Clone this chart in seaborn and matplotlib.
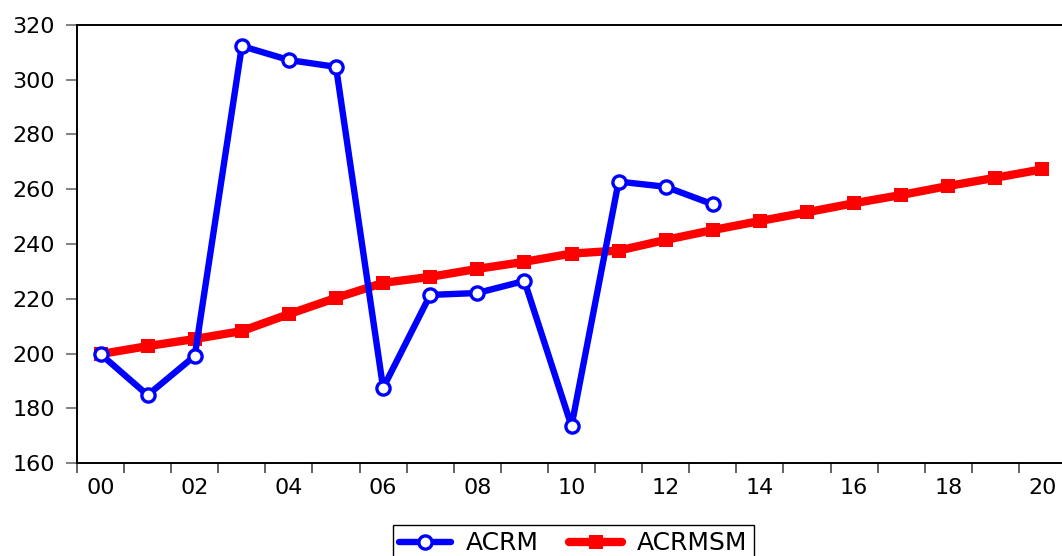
import matplotlib
matplotlib.use("Agg")
import matplotlib.pyplot as plt
import seaborn as sns
import pandas as pd
import numpy as np

years_acrm = list(range(2000, 2014))
acrm = [199.8, 184.8, 199.1, 312.3, 307.2, 304.7, 187.4, 221.4, 222.1, 226.5, 173.5, 262.8, 260.9, 254.5]
years_sm = list(range(2000, 2021))
acrmsm = [199.8, 202.7, 205.3, 208.2, 214.4, 220.3, 225.8, 228.0, 230.9, 233.5, 236.5, 237.6,
          241.5, 245.1, 248.4, 251.6, 254.9, 257.9, 261.2, 264.2, 267.3]
tick_years = list(range(2000, 2021, 2))
tick_labels = [f"{y % 100:02d}" for y in tick_years]
y_ticks = list(range(160, 321, 20))

sns.set_theme(style="white")
plt.rcParams['font.family'] = ['DejaVu Sans']
plt.rcParams['text.color'] = 'black'

df_a = pd.DataFrame({"year": years_acrm, "value": acrm})
df_s = pd.DataFrame({"year": years_sm, "value": acrmsm})

fig = plt.figure(figsize=(10.62, 5.56), dpi=100)
W, H = 1062, 556
ax = fig.add_axes([77 / W, 93 / H, 989 / W, 438 / H])

sns.lineplot(data=df_s, x="year", y="value", ax=ax, color="#ff0000", lw=6.0,
             marker="s", markersize=9.5, markeredgewidth=0, markerfacecolor="#ff0000",
             label="ACRMSM", zorder=2)
sns.lineplot(data=df_a, x="year", y="value", ax=ax, color="#0000ff", lw=4.6,
             marker="o", markersize=9.5, markeredgewidth=2.4, markeredgecolor="#0000ff",
             markerfacecolor="white", label="ACRM", zorder=3)

ax.set_xlim(1999.5, 2020.5)
ax.set_ylim(160, 320)
ax.set_xlabel("")
ax.set_ylabel("")

ax.set_xticks(np.arange(1999.5, 2021, 1.0))
ax.set_xticklabels([])
ax.set_xticks(tick_years, minor=True)
ax.set_xticklabels(tick_labels, minor=True)
ax.tick_params(axis="x", which="major", direction="out", length=7, width=1.3, color="#555555", bottom=True)
ax.tick_params(axis="x", which="minor", length=0, pad=11, labelsize=16, labelcolor="black", bottom=True)

ax.set_yticks(y_ticks)
ax.tick_params(axis="y", direction="out", length=8, width=1.3, color="#777777", left=True,
               labelsize=16, labelcolor="black", pad=8)

for s in ["left", "bottom", "top"]:
    ax.spines[s].set_visible(True)
    ax.spines[s].set_color("black")
    ax.spines[s].set_linewidth(1.4)
ax.spines["right"].set_visible(False)
ax.grid(False)

handles, labels = ax.get_legend_handles_labels()
order = [labels.index("ACRM"), labels.index("ACRMSM")]
leg = ax.legend([handles[i] for i in order], [labels[i] for i in order],
                loc="upper center", bbox_to_anchor=(573 / W, 31 / H), bbox_transform=fig.transFigure,
                ncol=2, frameon=True, fancybox=False, edgecolor="black", fontsize=18,
                handlelength=2.1, columnspacing=1.2, handletextpad=0.6, borderpad=0.25,
                borderaxespad=0, framealpha=1)
leg.get_frame().set_linewidth(1.0)
for t in leg.get_texts():
    t.set_color("black")

fig.savefig("out.png", dpi=100)
